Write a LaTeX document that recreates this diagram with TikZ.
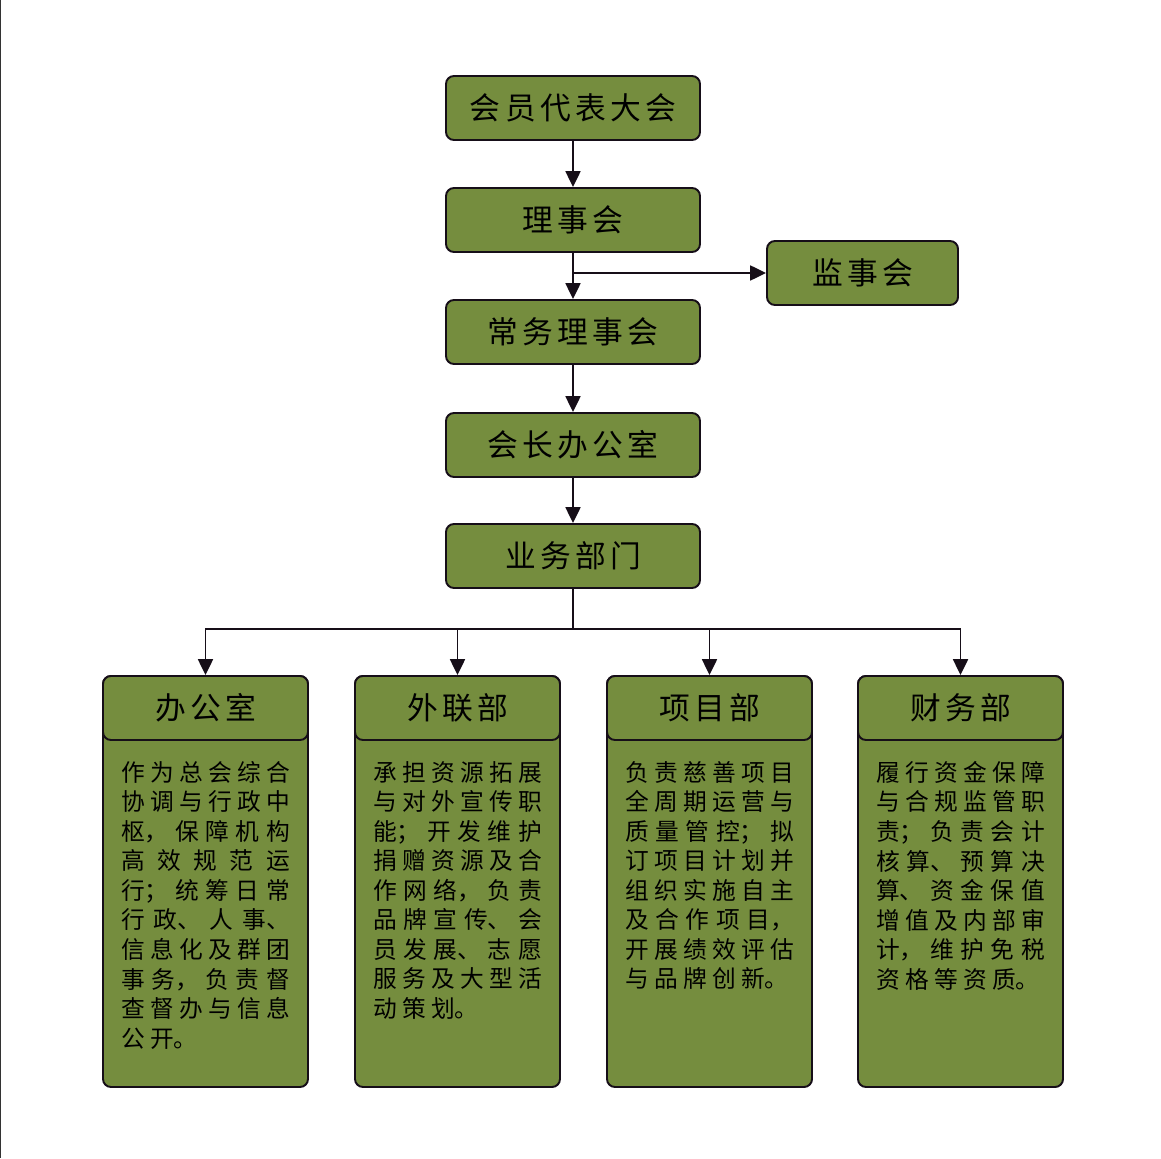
\documentclass[tikz,border=0pt]{standalone}
\usepackage{fontspec}
\newfontfamily\cjk{Noto Sans CJK SC}
\newfontfamily\cjktitle[LetterSpace=14]{Noto Sans CJK SC}
\usetikzlibrary{arrows.meta}
\definecolor{boxgreen}{RGB}{117,141,62}
\definecolor{edge}{RGB}{22,14,24}
\newcommand\bodysetup{\cjk\fontsize{13.5pt}{16.8pt}\selectfont
  \XeTeXlinebreaklocale "zh"\XeTeXlinebreakskip=3pt plus 12pt minus 0.5pt
  \tolerance=10000\parindent=0pt}
\tikzset{
  box/.style={draw=edge, fill=boxgreen, line width=1.1pt, rounded corners=0.16cm},
  topbox/.style={box, minimum width=5.08cm, minimum height=1.28cm,
    font=\cjktitle\fontsize{17.5pt}{21pt}\selectfont},
  deptbox/.style={box, minimum width=4.10cm, minimum height=8.22cm},
  depthead/.style={box, minimum width=4.10cm, minimum height=1.28cm,
    font=\cjktitle\fontsize{17.5pt}{21pt}\selectfont},
  depttext/.style={anchor=north, yshift=-0.4cm, inner sep=0pt, text width=96pt,
    align=justify, font=\bodysetup},
  link/.style={draw=edge, line width=1.1pt, -{Triangle[length=9pt, width=8.5pt]}}
}
\begin{document}
\begin{tikzpicture}
  \useasboundingbox (0, 0) rectangle (23.22, -23.16);
  \draw [line width=0.04cm, black!80] (0, 0) -- (0, -23.16);

  % top chain
  \node [topbox] (hydh) at (11.46, -2.16) {会员代表大会};
  \node [topbox] (lsh) at (11.46, -4.40) {理事会};
  \node [topbox] (jsh) at (17.25, -5.46) [minimum width=3.82cm] {监事会};
  \node [topbox] (cwlsh) at (11.46, -6.64) {常务理事会};
  \node [topbox] (hzbgs) at (11.46, -8.90) {会长办公室};
  \node [topbox] (ywbm) at (11.46, -11.12) {业务部门};

  \draw [link] (hydh) -- (lsh);
  \draw [link] (lsh) -- (cwlsh);
  \draw [link] (lsh.south |- jsh) -- (jsh);
  \draw [link] (cwlsh) -- (hzbgs);
  \draw [link] (hzbgs) -- (ywbm);

  % departments
  \node [deptbox] (bgs) at (4.11, -17.63) {};
  \node [deptbox] (wlb) at (9.15, -17.63) {};
  \node [deptbox] (xmb) at (14.19, -17.63) {};
  \node [deptbox] (cwb) at (19.21, -17.63) {};
  \node [depthead] (bgs-h) at (4.11, -14.16) {办公室};
  \node [depthead] (wlb-h) at (9.15, -14.16) {外联部};
  \node [depthead] (xmb-h) at (14.19, -14.16) {项目部};
  \node [depthead] (cwb-h) at (19.21, -14.16) {财务部};

  \node [depttext] (bgs-t) at (bgs-h.south) {作为总会综合协调与行政中枢，保障机构高效规范运行；统筹日常行政、人事、信息化及群团事务，负责督查督办与信息公开。};
  \node [depttext] (wlb-t) at (wlb-h.south) {承担资源拓展与对外宣传职能；开发维护捐赠资源及合作网络，负责品牌宣传、会员发展、志愿服务及大型活动策划。};
  \node [depttext] (xmb-t) at (xmb-h.south) {负责慈善项目全周期运营与质量管控；拟订项目计划并组织实施自主及合作项目，开展绩效评估与品牌创新。};
  \node [depttext] (cwb-t) at (cwb-h.south) {履行资金保障与合规监管职责；负责会计核算、预算决算、资金保值增值及内部审计，维护免税资格等资质。};

  \coordinate (split) at (11.46, -12.58);
  \draw [draw=edge, line width=1.1pt] (ywbm) -- (split);
  \foreach \d in {bgs-h, wlb-h, xmb-h, cwb-h}
    \draw [link] (split) -| (\d);
\end{tikzpicture}
\end{document}
